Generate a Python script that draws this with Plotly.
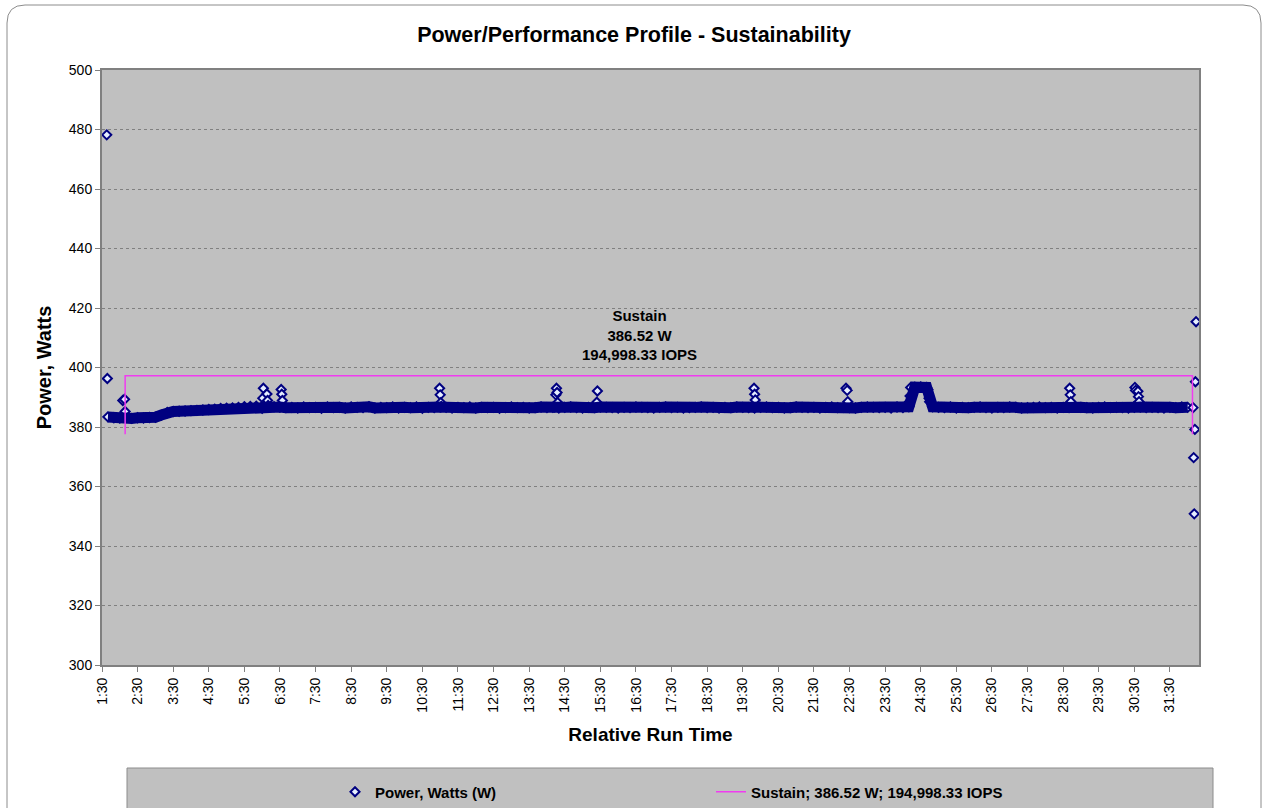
import plotly.graph_objects as go

# ---------------- data ----------------
# steady power band, one reading every 10 s starting at 1:40 (100 s)
base_start_s = 100
base_step_s = 10
base_w = [
    383.4, 383.1, 383.0, 383.2, 382.9, 383.1, 383.0, 383.2, 383.3, 384.0,
    384.9, 385.2, 385.3, 385.4, 385.5, 385.6, 385.7, 385.9, 386.0, 386.2,
    386.3, 386.4, 386.6, 386.8, 386.9, 387.0, 386.9, 387.0, 386.8, 386.7,
    386.5, 386.6, 386.4, 386.7, 386.5, 386.6, 386.3, 386.7, 386.5, 386.6,
    386.4, 386.7, 386.6, 386.5, 386.8, 386.4, 386.6, 386.5, 386.7, 386.4,
    386.6, 386.5, 386.7, 386.3, 386.6, 386.5, 386.7, 386.6, 386.4, 386.6,
    386.5, 386.7, 386.4, 386.6, 386.5, 386.6, 386.3, 386.5, 386.7, 386.5,
    386.6, 386.4, 386.5, 386.7, 386.5, 386.6, 386.4, 386.6, 386.7, 386.5,
    386.4, 386.6, 386.5, 386.7, 386.6, 386.5, 386.4, 386.6, 386.5, 386.7,
    386.6, 386.5, 386.4, 386.6, 386.7, 386.5, 386.6, 386.4, 386.5, 386.6,
    386.7, 386.5, 386.6, 386.4, 386.6, 386.5, 386.7, 386.6, 386.5, 386.4,
    386.6, 386.7, 386.5, 386.6, 386.4, 386.5, 386.7, 386.6, 386.5, 386.6,
    386.4, 386.6, 386.7, 386.5, 386.6, 386.5, 386.4, 386.6, 386.7, 386.6,
    386.5, 386.6, 386.4, 386.7, 386.5, 386.8, 393.4, 393.5, 393.3, 386.8,
    386.6, 386.5, 386.7, 386.4, 386.6, 386.5, 386.6, 386.7, 386.5, 386.4,
    386.6, 386.5, 386.7, 386.6, 386.4, 386.5, 386.6, 386.7, 386.5, 386.6,
    386.4, 386.6, 386.5, 386.7, 386.6, 386.5, 386.4, 386.6, 386.7, 386.5,
    386.6, 386.5, 386.4, 386.6, 386.7, 386.5, 386.6, 386.5, 386.4, 386.6,
    386.5, 386.7, 386.6,
]
base_t = [base_start_s + i * base_step_s for i in range(len(base_w))]

# individual readings that stand out from the band (seconds, watts)
spike_t = [98, 99,
           124, 125, 128, 129,
           360, 361, 362, 368, 369, 370,
           389, 392, 393, 394,
           659, 660, 661, 662,
           853, 855, 856, 857, 858,
           923, 924, 925,
           1188, 1189, 1190, 1191,
           1343, 1344, 1346, 1347,
           1450, 1451, 1452, 1453, 1482, 1484, 1485,
           1720, 1721, 1722, 1723,
           1830, 1831, 1832, 1836, 1837, 1838,
           1929, 1930, 1931, 1932, 1933, 1934]
spike_w = [478.2, 396.3,
           383.4, 388.9, 389.3, 385.2,
           386.3, 389.7, 393.0, 391.1, 388.9, 387.2,
           386.8, 392.6, 391.0, 388.9,
           393.0, 390.8, 388.2, 386.9,
           386.7, 390.8, 393.0, 391.6, 388.2,
           386.8, 388.3, 392.1,
           386.7, 393.0, 391.0, 389.1,
           386.9, 393.0, 392.3, 388.5,
           387.1, 388.5, 390.4, 393.3, 392.6, 389.7, 388.5,
           386.9, 393.0, 390.8, 388.5,
           386.9, 393.3, 392.3, 392.0, 390.2, 388.5,
           386.5, 369.7, 350.8, 379.2, 395.2, 415.4]

# sustain window bracket
sustain_t = [129, 129, 1928, 1928]
sustain_w = [377.6, 397.2, 397.2, 377.6]

x_tick_seconds = [90 + 60 * i for i in range(31)]
x_tick_labels = ["1:30", "2:30", "3:30", "4:30", "5:30", "6:30", "7:30", "8:30",
                 "9:30", "10:30", "11:30", "12:30", "13:30", "14:30", "15:30",
                 "16:30", "17:30", "18:30", "19:30", "20:30", "21:30", "22:30",
                 "23:30", "24:30", "25:30", "26:30", "27:30", "28:30", "29:30",
                 "30:30", "31:30"]
x_range_s = [90, 1939]
y_range = [300, 500]

# ---------------- layout helpers ----------------
W, H = 1268, 808
L, R, T, B = 102, 1199, 70, 665
FONT = "Liberation Sans, Arial, sans-serif"


def px_x(px):
    return (px - L) / (R - L)


def px_y(py):
    return (B - py) / (B - T)


all_t = base_t + spike_t
all_w = base_w + spike_w

fig = go.Figure()

fig.add_trace(go.Scatter(
    x=all_t, y=all_w, mode="markers", name="Power, Watts (W)",
    marker=dict(symbol="diamond", size=7, color="#E6EEFF",
                line=dict(color="#000080", width=2)),
    legend="legend", hoverinfo="x+y",
))
# dense overlap of one-second readings renders as a solid band
fig.add_trace(go.Scatter(
    x=base_t, y=base_w, mode="lines", showlegend=False,
    line=dict(color="#000080", width=11), hoverinfo="skip",
))
fig.add_trace(go.Scatter(
    x=sustain_t, y=sustain_w, mode="lines",
    name="Sustain; 386.52 W; 194,998.33 IOPS",
    line=dict(color="#F03CF0", width=1.5), legend="legend2",
))

# chart border (rounded) and legend box
rx, ry = 18 / (R - L), 18 / (B - T)
x0, x1 = px_x(7), px_x(1261)
y0, y1 = px_y(5), px_y(840)
border_path = (f"M {x0},{y1} L {x0},{y0 - ry} Q {x0},{y0} {x0 + rx},{y0} "
               f"L {x1 - rx},{y0} Q {x1},{y0} {x1},{y0 - ry} L {x1},{y1}")
shapes = [
    dict(type="path", xref="paper", yref="paper", path=border_path,
         line=dict(color="#8C8C8C", width=1), layer="below"),
    dict(type="rect", xref="paper", yref="paper",
         x0=px_x(127), x1=px_x(1213), y0=px_y(768), y1=px_y(840),
         fillcolor="#C0C0C0", line=dict(color="#8C8C8C", width=1), layer="below"),
]

legend_font = dict(size=15, family=FONT, color="black", weight="bold")

fig.update_layout(
    width=W, height=H,
    margin=dict(l=L, r=W - R, t=T, b=H - B, autoexpand=False),
    paper_bgcolor="white", plot_bgcolor="#C0C0C0",
    font=dict(family=FONT, color="black"),
    title=dict(text="<b>Power/Performance Profile - Sustainability</b>",
               x=0.5, xref="container", xanchor="center",
               y=1 - 34 / H, yref="container", yanchor="middle",
               font=dict(size=21.5, family=FONT, color="black")),
    xaxis=dict(range=x_range_s, tickmode="array", tickvals=x_tick_seconds,
               ticktext=x_tick_labels, tickangle=-90,
               tickfont=dict(size=14, family=FONT, color="black"),
               ticks="outside", ticklen=5, tickcolor="#808080",
               showline=True, linecolor="#808080", linewidth=2, mirror=True,
               showgrid=False, zeroline=False, automargin=False,
               title=dict(text="<b>Relative Run Time</b>", standoff=16,
                          font=dict(size=19, family=FONT, color="black"))),
    yaxis=dict(range=y_range, dtick=20, tick0=300,
               tickfont=dict(size=14, family=FONT, color="black"),
               ticks="outside", ticklen=5, tickcolor="#808080",
               showline=True, linecolor="#808080", linewidth=2, mirror=True,
               showgrid=True, gridcolor="#808080", gridwidth=1, griddash="dot",
               zeroline=False, automargin=False,
               title=dict(text="<b>Power, Watts</b>", standoff=12,
                          font=dict(size=20, family=FONT, color="black"))),
    legend=dict(x=335 / W, y=1 - 792 / H, xref="container", yref="container",
                xanchor="left", yanchor="middle",
                orientation="h", bgcolor="rgba(0,0,0,0)", font=legend_font),
    legend2=dict(x=711 / W, y=1 - 792 / H, xref="container", yref="container",
                 xanchor="left", yanchor="middle",
                 orientation="h", bgcolor="rgba(0,0,0,0)", font=legend_font),
    shapes=shapes,
    annotations=[dict(
        x=996, y=410.9, xref="x", yref="y", showarrow=False,
        text="<b>Sustain</b><br><b>386.52 W</b><br><b>194,998.33 IOPS</b>",
        font=dict(size=15, family=FONT, color="black"), align="center",
    )],
    showlegend=True,
)

fig.write_html("out.html", config={"displayModeBar": False},
               post_script="document.body.style.margin='0';"
                           "document.body.style.overflow='hidden';")
